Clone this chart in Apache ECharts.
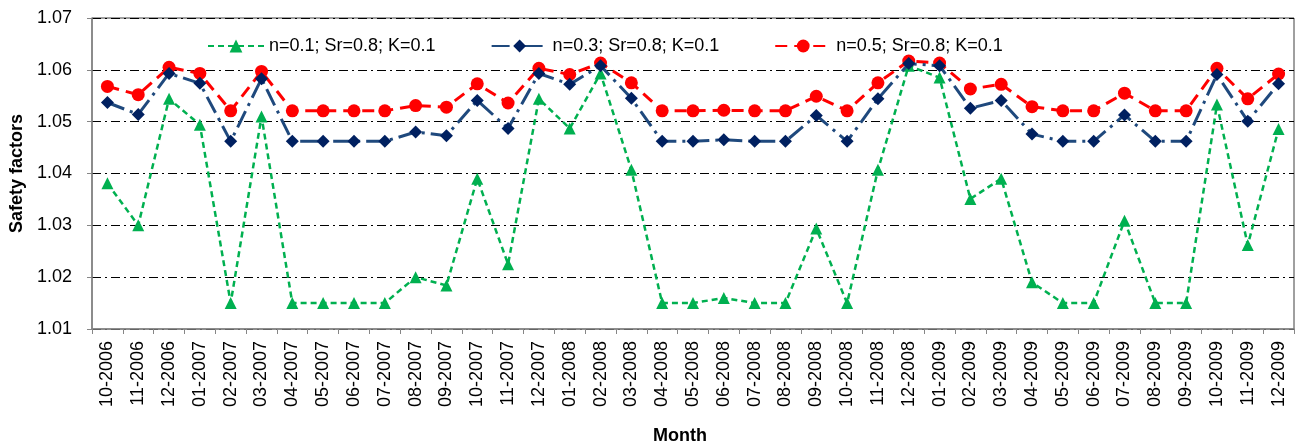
<!DOCTYPE html>
<html>
<head>
<meta charset="utf-8">
<script src="https://cdn.jsdelivr.net/npm/echarts@6/dist/echarts.min.js"></script>
<style>
  html, body { margin: 0; padding: 0; background: #fff; }
  #container { width: 1295px; height: 445px; }
</style>
</head>
<body>
<div id="container"></div>
<script>
var months = [
  "10-2006", "11-2006", "12-2006",
  "01-2007", "02-2007", "03-2007", "04-2007", "05-2007", "06-2007",
  "07-2007", "08-2007", "09-2007", "10-2007", "11-2007", "12-2007",
  "01-2008", "02-2008", "03-2008", "04-2008", "05-2008", "06-2008",
  "07-2008", "08-2008", "09-2008", "10-2008", "11-2008", "12-2008",
  "01-2009", "02-2009", "03-2009", "04-2009", "05-2009", "06-2009",
  "07-2009", "08-2009", "09-2009", "10-2009", "11-2009", "12-2009"
];

// n=0.1
var n01 = [
  1.0381, 1.0300, 1.0544,
  1.0494, 1.0150, 1.0510, 1.0150, 1.0150, 1.0150,
  1.0150, 1.0200, 1.0184, 1.0390, 1.0225, 1.0544,
  1.0487, 1.0593, 1.0407, 1.0150, 1.0150, 1.0160,
  1.0150, 1.0150, 1.0294, 1.0150, 1.0407, 1.0608,
  1.0585, 1.0351, 1.0390, 1.0190, 1.0150, 1.0150,
  1.0309, 1.0150, 1.0150, 1.0533, 1.0262, 1.0486
];

// n=0.3
var n03 = [
  1.0537, 1.0514, 1.0593,
  1.0574, 1.0462, 1.0583, 1.0462, 1.0462, 1.0462,
  1.0462, 1.0480, 1.0473, 1.0541, 1.0487, 1.0593,
  1.0572, 1.0608, 1.0545, 1.0462, 1.0462, 1.0465,
  1.0462, 1.0462, 1.0512, 1.0462, 1.0544, 1.0612,
  1.0608, 1.0526, 1.0541, 1.0476, 1.0462, 1.0462,
  1.0513, 1.0462, 1.0462, 1.0591, 1.0501, 1.0573
];

// n=0.5
var n05 = [
  1.0568, 1.0552, 1.0605,
  1.0593, 1.0521, 1.0597, 1.0521, 1.0521, 1.0521,
  1.0521, 1.0531, 1.0528, 1.0573, 1.0536, 1.0603,
  1.0591, 1.0613, 1.0575, 1.0521, 1.0521, 1.0522,
  1.0521, 1.0521, 1.0549, 1.0521, 1.0575, 1.0617,
  1.0613, 1.0563, 1.0572, 1.0529, 1.0521, 1.0521,
  1.0555, 1.0521, 1.0521, 1.0603, 1.0544, 1.0592
];

var seriesNames = [
  "n=0.1; Sr=0.8; K=0.1",
  "n=0.3; Sr=0.8; K=0.1",
  "n=0.5; Sr=0.8; K=0.1"
];

var font = "Liberation Sans";
var myChart = echarts.init(document.getElementById("container"));

var option = {
  backgroundColor: "#fff",
  animation: false,
  textStyle: { fontFamily: font },
  legend: {
    top: 32,
    left: 202,
    itemWidth: 56,
    itemHeight: 16,
    itemGap: 55,
    textStyle: { fontSize: 18, color: "#000", fontFamily: font },
    data: seriesNames
  },
  grid: {
    left: 92,
    right: 1,
    top: 18,
    bottom: 116,
    outerBoundsMode: "none",
    containLabel: false,
    show: true,
    borderColor: "#404040",
    borderWidth: 1
  },
  xAxis: {
    type: "category",
    data: months,
    boundaryGap: true,
    name: "Month",
    nameLocation: "middle",
    nameGap: 98,
    nameTextStyle: {
      fontSize: 18, fontWeight: "bold", color: "#000", fontFamily: font,
      padding: [0, 26, 0, 0]
    },
    axisLine: { lineStyle: { color: "#868686", width: 1.5 } },
    axisTick: { show: true, alignWithLabel: false, length: 5, lineStyle: { color: "#868686" } },
    axisLabel: {
      rotate: 90,
      interval: 0,
      fontSize: 18,
      color: "#000",
      margin: 12,
      fontFamily: font
    },
    splitLine: { show: false }
  },
  yAxis: {
    type: "value",
    min: 1.01,
    max: 1.07,
    interval: 0.01,
    name: "Safety factors",
    nameLocation: "middle",
    nameGap: 64,
    nameTextStyle: { fontSize: 18, fontWeight: "bold", color: "#000", fontFamily: font },
    axisLine: { show: true, lineStyle: { color: "#868686", width: 1.5 } },
    axisTick: { show: true, length: 5, lineStyle: { color: "#868686" } },
    axisLabel: {
      fontSize: 18,
      color: "#000",
      margin: 20,
      fontFamily: font,
      formatter: function (v) { return v.toFixed(2); }
    },
    splitLine: {
      show: true,
      lineStyle: { color: "#000", width: 1, type: [9, 4, 2, 4] }
    }
  },
  series: [
    {
      name: seriesNames[0],
      type: "line",
      data: n01,
      symbol: "triangle",
      symbolSize: 12,
      itemStyle: { color: "#00B050" },
      lineStyle: { color: "#00B050", width: 2.5, type: [6, 4] },
      z: 2
    },
    {
      name: seriesNames[1],
      type: "line",
      data: n03,
      symbol: "diamond",
      symbolSize: 13,
      itemStyle: { color: "#002060" },
      lineStyle: { color: "#1F497D", width: 3, type: [18, 6, 3, 6] },
      z: 3
    },
    {
      name: seriesNames[2],
      type: "line",
      data: n05,
      symbol: "circle",
      symbolSize: 13,
      itemStyle: { color: "#FF0000" },
      lineStyle: { color: "#FF0000", width: 3, type: [12, 7] },
      z: 1
    }
  ]
};

myChart.setOption(option);
</script>
</body>
</html>
